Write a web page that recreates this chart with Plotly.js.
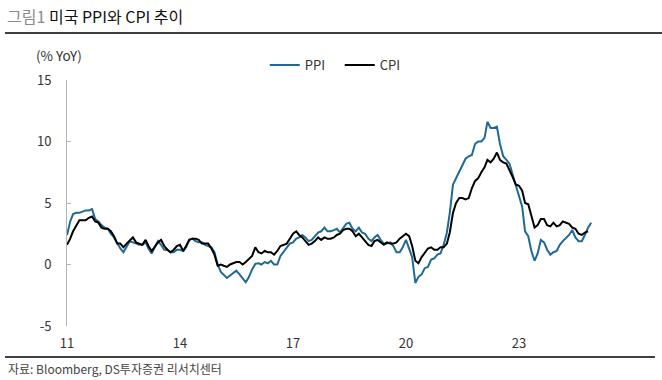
<!DOCTYPE html>
<html>
<head>
<meta charset="utf-8">
<script src="https://cdn.plot.ly/plotly-3.0.1.min.js"></script>
<style>html,body{margin:0;padding:0;background:#fff;}#chart{width:662px;height:380px;}</style>
</head>
<body>
<div id="chart"></div>
<script>
// Monthly YoY (%), series start January 2011
const startYear = 2011;
const ppiValues = [
  2.4, 3.5, 4.1, 4.2, 4.2, 4.3, 4.4, 4.4, 4.5, 3.7, 3.5, 3.2,   // 2011
  3.0, 2.9, 2.5, 2.2, 1.7, 1.3, 1.0, 1.4, 1.9, 1.8, 1.7, 1.6,   // 2012
  1.6, 1.8, 1.3, 0.9, 1.4, 1.9, 1.6, 1.2, 1.2, 1.0, 1.0, 1.2,   // 2013
  1.2, 1.1, 1.4, 2.0, 2.1, 1.9, 1.8, 1.8, 1.6, 1.5, 1.4, 1.0,   // 2014
  0.0, -0.6, -0.8, -1.1, -0.9, -0.7, -0.5, -0.8, -1.1, -1.45, -1.0, -0.4, // 2015
  0.05, 0.1, 0.0, 0.2, 0.1, 0.3, 0.0, 0.0, 0.7, 1.0, 1.4, 1.7, // 2016
  1.8, 2.1, 2.2, 2.4, 2.2, 1.9, 2.0, 2.3, 2.6, 2.7, 3.0, 2.7,   // 2017
  2.7, 2.8, 2.9, 2.6, 3.0, 3.3, 3.4, 2.9, 2.7, 3.0, 2.6, 2.5,   // 2018
  2.1, 1.9, 2.2, 2.4, 2.0, 1.7, 1.7, 1.8, 1.5, 1.0, 1.0, 1.4,   // 2019
  2.0, 1.3, 0.6, -1.5, -1.0, -0.8, -0.3, -0.2, 0.4, 0.5, 0.8, 0.9, // 2020
  1.6, 2.6, 4.2, 6.5, 7.0, 7.6, 8.1, 8.6, 8.8, 8.9, 9.8, 10.0,  // 2021
  10.0, 10.3, 11.6, 11.1, 11.1, 11.2, 9.8, 8.8, 8.5, 8.2, 7.3, 6.4, // 2022
  5.6, 4.7, 2.7, 2.3, 1.1, 0.3, 0.9, 2.0, 1.8, 1.2, 0.8, 1.0,   // 2023
  1.1, 1.6, 1.9, 2.2, 2.4, 2.8, 2.2, 1.9, 1.9, 2.4, 3.0, 3.4    // 2024
];
const cpiValues = [
  1.6, 2.1, 2.7, 3.2, 3.6, 3.6, 3.6, 3.8, 3.9, 3.5, 3.4, 3.0,   // 2011
  2.9, 2.9, 2.7, 2.3, 1.7, 1.7, 1.4, 1.7, 2.0, 2.2, 1.8, 1.7,   // 2012
  1.6, 2.0, 1.5, 1.1, 1.4, 1.8, 2.0, 1.5, 1.2, 1.0, 1.2, 1.5,   // 2013
  1.6, 1.1, 1.5, 2.0, 2.1, 2.1, 2.0, 1.7, 1.7, 1.7, 1.3, 0.8,   // 2014
  -0.1, 0.0, -0.1, -0.2, 0.0, 0.1, 0.2, 0.2, 0.0, 0.2, 0.5, 0.7, // 2015
  1.4, 1.0, 0.9, 1.1, 1.0, 1.0, 0.8, 1.1, 1.5, 1.6, 1.7, 2.1,   // 2016
  2.5, 2.7, 2.4, 2.2, 1.9, 1.6, 1.7, 1.9, 2.2, 2.0, 2.2, 2.1,   // 2017
  2.1, 2.2, 2.4, 2.5, 2.8, 2.9, 2.9, 2.7, 2.3, 2.5, 2.2, 1.9,   // 2018
  1.6, 1.5, 1.9, 2.0, 1.8, 1.6, 1.8, 1.7, 1.7, 1.8, 2.1, 2.3,   // 2019
  2.5, 2.3, 1.5, 0.3, 0.1, 0.6, 1.0, 1.3, 1.4, 1.2, 1.2, 1.4,   // 2020
  1.4, 1.7, 2.6, 4.2, 5.0, 5.4, 5.4, 5.3, 5.4, 6.2, 6.8, 7.0,   // 2021
  7.5, 7.9, 8.5, 8.3, 8.6, 9.1, 8.5, 8.3, 8.2, 7.7, 7.1, 6.5,   // 2022
  6.4, 6.0, 5.0, 4.9, 4.0, 3.0, 3.2, 3.7, 3.7, 3.2, 3.1, 3.4,   // 2023
  3.1, 3.2, 3.5, 3.4, 3.3, 3.0, 2.9, 2.5, 2.4, 2.6, 2.7         // 2024
];
const seriesNames = ['PPI', 'CPI'];
const tickDates = ['2011-01-01', '2014-01-01', '2017-01-01', '2020-01-01', '2023-01-01', '2026-01-01'];
const tickLabels = ['11', '14', '17', '20', '23', ''];
const xRange = ['2011-01-01', '2026-01-01'];
const yTicks = [-5, 0, 5, 10, 15];
const yTickLabels = ['-5', '0', '5', '10', '15'];
const titleLead = '그림1';
const titleMain = '미국 PPI와 CPI 추이';
const unitLabel = '(% YoY)';
const sourceText = '자료: Bloomberg, DS투자증권 리서치센터';

function monthDates(n) {
  const out = [];
  for (let i = 0; i < n; i++) {
    const y = startYear + Math.floor(i / 12);
    const m = (i % 12) + 1;
    out.push(y + '-' + (m < 10 ? '0' + m : m) + '-01');
  }
  return out;
}

const FONT = '"Noto Sans CJK KR", "Noto Sans", sans-serif';

const traces = [
  { x: monthDates(ppiValues.length), y: ppiValues, name: seriesNames[0], type: 'scatter', mode: 'lines',
    line: { color: '#1f6a93', width: 2 } },
  { x: monthDates(cpiValues.length), y: cpiValues, name: seriesNames[1], type: 'scatter', mode: 'lines',
    line: { color: '#000000', width: 2 } }
];

const layout = {
  width: 662, height: 380,
  margin: { l: 67, r: 30, t: 80, b: 54 },
  paper_bgcolor: '#fff', plot_bgcolor: '#fff',
  font: { family: FONT, size: 13, color: '#333' },
  title: {
    text: '<span style="color:#8a8a8a">' + titleLead + '</span> ' + titleMain,
    font: { family: FONT, size: 16, color: '#111' },
    x: 7 / 662, xanchor: 'left', xref: 'container',
    y: 1 - 17 / 380, yanchor: 'middle', yref: 'container'
  },
  showlegend: true,
  legend: {
    orientation: 'h', x: 0.35, xanchor: 'left', y: 1.061, yanchor: 'middle',
    font: { family: FONT, size: 13, color: '#333' }, bgcolor: 'rgba(0,0,0,0)',
    entrywidth: 30, traceorder: 'normal'
  },
  xaxis: {
    type: 'date', range: xRange, tickmode: 'array', tickvals: tickDates, ticktext: tickLabels,
    showgrid: false, zeroline: false, showline: false,
    ticks: 'outside', ticklen: 5, tickcolor: 'rgba(0,0,0,0)',
    tickfont: { family: FONT, size: 13, color: '#333' }, fixedrange: true
  },
  xaxis2: {
    type: 'date', overlaying: 'x', matches: 'x', anchor: 'free', position: 0.25,
    range: xRange, tickmode: 'array', tickvals: tickDates, showticklabels: false,
    showgrid: false, zeroline: false, showline: true, linecolor: '#b4b4b4', linewidth: 1,
    ticks: 'inside', ticklen: 4, tickcolor: '#b4b4b4', tickwidth: 1
  },
  yaxis: {
    range: [-5, 15], tickmode: 'array', tickvals: yTicks, ticktext: yTickLabels,
    showgrid: false, zeroline: false, showline: true, linecolor: '#b4b4b4', linewidth: 1,
    ticks: 'inside', ticklen: 4, tickcolor: '#b4b4b4', ticklabelstandoff: 12,
    tickfont: { family: FONT, size: 13, color: '#333' }, fixedrange: true
  },
  annotations: [
    { text: unitLabel, xref: 'paper', yref: 'paper', x: (34 - 67) / 565, y: 1 + (80 - 55) / 246,
      xanchor: 'left', yanchor: 'middle', showarrow: false, font: { family: FONT, size: 13.5, color: '#333' } },
    { text: sourceText, xref: 'paper', yref: 'paper', x: (6 - 67) / 565, y: (326 - 368) / 246,
      xanchor: 'left', yanchor: 'middle', showarrow: false, font: { family: FONT, size: 12, color: '#444' } }
  ],
  shapes: [
    { type: 'line', xref: 'paper', yref: 'paper', x0: (5 - 67) / 565, x1: (662 - 67) / 565,
      y0: 1 + (80 - 33) / 246, y1: 1 + (80 - 33) / 246, line: { color: '#000', width: 1.5 } },
    { type: 'line', xref: 'paper', yref: 'paper', x0: (5 - 67) / 565, x1: (655 - 67) / 565,
      y0: (326 - 357) / 246, y1: (326 - 357) / 246, line: { color: '#000', width: 1.5 } }
  ]
};

Plotly.newPlot('chart', traces, layout, { displayModeBar: false, staticPlot: true });
</script>
</body>
</html>
